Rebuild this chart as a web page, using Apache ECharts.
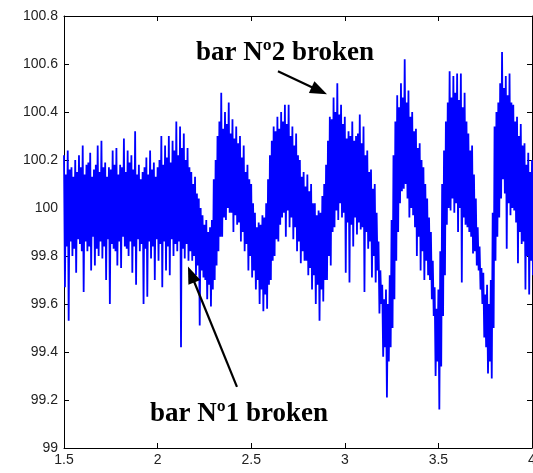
<!DOCTYPE html>
<html>
<head>
<meta charset="utf-8">
<script src="https://cdn.jsdelivr.net/npm/echarts@6/dist/echarts.min.js"></script>
<style>
  html, body { margin: 0; padding: 0; background: #fff; }
  #main { width: 533px; height: 473px; }
</style>
</head>
<body>
<div id="main"></div>
<script>
const chartDom = document.getElementById('main');
const myChart = echarts.init(chartDom);

// signal: one sample every 0.01 s, upper and lower extent
const xStart = 1.5;
const xStep = 0.01;
const upper = [
  100.22, 100.14, 100.24, 100.16, 100.17, 100.13, 100.20, 100.15, 100.22, 100.17,
  100.26, 100.14, 100.18, 100.19, 100.23, 100.13, 100.16, 100.18, 100.26, 100.15,
  100.28, 100.17, 100.19, 100.13, 100.17, 100.16, 100.24, 100.18, 100.25, 100.14,
  100.18, 100.17, 100.29, 100.15, 100.24, 100.19, 100.22, 100.16, 100.32, 100.14,
  100.18, 100.12, 100.15, 100.17, 100.21, 100.14, 100.24, 100.16, 100.19, 100.13,
  100.17, 100.20, 100.30, 100.18, 100.26, 100.21, 100.30, 100.19, 100.28, 100.24,
  100.36, 100.22, 100.34, 100.25, 100.31, 100.20, 100.25, 100.17, 100.15, 100.10,
  100.13, 100.06, 100.04, 100.00, 99.97, 99.93, 99.95, 99.90, 99.92, 99.95,
  100.12, 100.20, 100.30, 100.36, 100.48, 100.33, 100.40, 100.35, 100.44, 100.31,
  100.37, 100.29, 100.34, 100.27, 100.30, 100.21, 100.26, 100.15, 100.18, 100.12,
  100.10, 100.02, 99.98, 99.92, 99.94, 99.93, 99.97, 99.96, 100.02, 100.12,
  100.22, 100.28, 100.34, 100.32, 100.38, 100.33, 100.40, 100.36, 100.43, 100.35,
  100.43, 100.30, 100.34, 100.26, 100.31, 100.22, 100.20, 100.13, 100.15, 100.09,
  100.14, 100.07, 100.10, 100.02, 100.02, 99.97, 99.99, 99.98, 100.05, 100.10,
  100.18, 100.28, 100.38, 100.37, 100.46, 100.40, 100.52, 100.39, 100.43, 100.35,
  100.38, 100.29, 100.32, 100.30, 100.36, 100.28, 100.30, 100.31, 100.39, 100.27,
  100.34, 100.22, 100.24, 100.15, 100.16, 100.08, 100.10, 99.98, 99.86, 99.74,
  99.68, 99.62, 99.66, 99.60, 99.72, 99.95, 100.22, 100.36, 100.47, 100.42,
  100.52, 100.46, 100.62, 100.44, 100.49, 100.38, 100.40, 100.32, 100.33, 100.25,
  100.27, 100.20, 100.17, 100.10, 100.04, 99.96, 99.90, 99.78, 99.67, 99.58,
  99.66, 99.82, 100.10, 100.24, 100.36, 100.44, 100.57, 100.46, 100.55, 100.48,
  100.56, 100.45, 100.56, 100.42, 100.48, 100.36, 100.31, 100.24, 100.26, 100.14,
  100.04, 99.92, 99.84, 99.75, 99.73, 99.64, 99.68, 99.60, 99.70, 99.98,
  100.34, 100.40, 100.44, 100.52, 100.65, 100.50, 100.55, 100.47, 100.56, 100.44,
  100.43, 100.36, 100.38, 100.30, 100.35, 100.26, 100.27, 100.18, 100.23, 100.15,
  100.20
];
const lower = [
  99.67, 99.84, 99.53, 99.86, 99.80, 99.83, 99.73, 99.87, 99.85, 99.82,
  99.65, 99.86, 99.82, 99.84, 99.74, 99.88, 99.76, 99.83, 99.80, 99.86,
  99.79, 99.84, 99.70, 99.87, 99.60, 99.85, 99.83, 99.82, 99.76, 99.86,
  99.75, 99.88, 99.84, 99.83, 99.80, 99.86, 99.73, 99.84, 99.68, 99.87,
  99.82, 99.85, 99.60, 99.83, 99.63, 99.86, 99.79, 99.84, 99.70, 99.87,
  99.78, 99.85, 99.67, 99.86, 99.74, 99.84, 99.72, 99.87, 99.80, 99.85,
  99.82, 99.86, 99.42, 99.83, 99.79, 99.85, 99.78, 99.82, 99.78, 99.80,
  99.72, 99.76, 99.51, 99.74, 99.71, 99.70, 99.62, 99.68, 99.59, 99.66,
  99.70, 99.76, 99.82, 99.88, 99.88, 99.96, 99.95, 100.00, 99.98, 99.98,
  99.90, 99.97, 99.93, 99.94, 99.86, 99.90, 99.82, 99.85, 99.74, 99.80,
  99.71, 99.74, 99.66, 99.70, 99.60, 99.66, 99.57, 99.64, 99.58, 99.68,
  99.70, 99.78, 99.80, 99.87, 99.86, 99.93, 99.96, 99.98, 99.88, 99.99,
  99.92, 99.96, 99.87, 99.92, 99.82, 99.86, 99.77, 99.82, 99.78, 99.78,
  99.72, 99.75, 99.66, 99.72, 99.60, 99.68, 99.53, 99.66, 99.61, 99.70,
  99.70, 99.80, 99.76, 99.90, 99.92, 99.99, 99.95, 100.02, 99.96, 99.98,
  99.73, 99.94, 99.69, 99.93, 99.84, 99.96, 99.89, 99.94, 99.91, 99.92,
  99.65, 99.90, 99.83, 99.86, 99.71, 99.80, 99.69, 99.74, 99.56, 99.60,
  99.38, 99.42, 99.21, 99.36, 99.42, 99.50, 99.62, 99.78, 99.90, 100.02,
  100.07, 100.08, 100.10, 100.04, 99.96, 100.00, 99.97, 99.92, 99.80, 99.88,
  99.74, 99.82, 99.70, 99.78, 99.72, 99.70, 99.62, 99.55, 99.30, 99.36,
  99.16, 99.34, 99.55, 99.72, 99.93, 100.00, 99.99, 100.04, 99.98, 100.02,
  99.90, 100.00, 99.69, 99.96, 99.93, 99.92, 99.90, 99.88, 99.81, 99.82,
  99.76, 99.74, 99.66, 99.60, 99.46, 99.42, 99.31, 99.36, 99.29, 99.50,
  99.78, 99.88, 99.96, 100.04, 100.12, 100.06, 99.83, 100.02, 99.97, 100.00,
  99.99, 99.94, 99.77, 99.90, 99.85, 99.86, 99.66, 99.80, 99.64, 99.78,
  99.72
];

const signal = [];
upper.forEach(function (v, i) {
  const x = xStart + i * xStep;
  signal.push([x, v]);
  signal.push([x + xStep / 2, lower[i]]);
});

const labelStyle = {
  color: '#222',
  fontFamily: 'Liberation Sans, Arial, sans-serif',
  fontSize: 14
};
const boxLine = { show: true, onZero: false, lineStyle: { color: '#000', width: 1 } };
const boxTick = { show: true, inside: true, length: 5, lineStyle: { color: '#000' } };
const noteFont = 'bold 27px "Liberation Serif", "Times New Roman", serif';

option = {
  animation: false,
  grid: { left: 64, right: 1, top: 16, bottom: 25, outerBoundsMode: 'none', containLabel: false },
  xAxis: [
    {
      type: 'value', min: 1.5, max: 4, interval: 0.5,
      axisLine: boxLine, axisTick: boxTick, splitLine: { show: false },
      axisLabel: Object.assign({ margin: 5 }, labelStyle)
    },
    {
      type: 'value', position: 'top', min: 1.5, max: 4, interval: 0.5,
      axisLine: boxLine, axisTick: boxTick, splitLine: { show: false },
      axisLabel: { show: false }
    }
  ],
  yAxis: [
    {
      type: 'value', min: 99, max: 100.8, interval: 0.2,
      axisLine: boxLine, axisTick: boxTick, splitLine: { show: false },
      axisLabel: Object.assign({ margin: 6 }, labelStyle)
    },
    {
      type: 'value', position: 'right', min: 99, max: 100.8, interval: 0.2,
      axisLine: boxLine, axisTick: boxTick, splitLine: { show: false },
      axisLabel: { show: false }
    }
  ],
  series: [
    {
      type: 'line',
      data: signal,
      showSymbol: false,
      symbol: 'none',
      sampling: null,
      lineStyle: { color: '#0000ff', width: 1.8 },
      silent: true,
      markLine: {
        silent: true,
        symbol: ['none', 'triangle'],
        symbolSize: [13, 17],
        label: { show: false },
        lineStyle: { color: '#000', width: 2.2, type: 'solid' },
        data: [
          [{ coord: [2.424, 99.255] }, { coord: [2.1795, 99.723] }],
          [{ coord: [2.643, 100.57] }, { coord: [2.864, 100.489] }]
        ]
      }
    }
  ],
  graphic: [
    {
      type: 'text', left: 196, top: 40,
      style: { text: 'bar Nº2 broken', fill: '#000', font: noteFont }
    },
    {
      type: 'text', left: 150, top: 401,
      style: { text: 'bar Nº1 broken', fill: '#000', font: noteFont }
    }
  ]
};

option && myChart.setOption(option);
</script>
</body>
</html>
